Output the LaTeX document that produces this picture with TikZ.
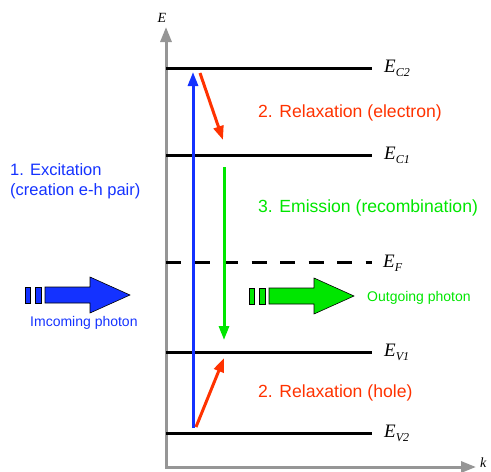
\documentclass[tikz,border=0pt]{standalone}
\usepackage{fontspec}
\setmainfont{Liberation Sans}
\newfontfamily\tms{Liberation Serif}
\usetikzlibrary{arrows.meta, positioning}
\definecolor{exblue}{RGB}{20,50,255}
\definecolor{rlxred}{RGB}{255,50,0}
\definecolor{emgreen}{RGB}{0,230,0}
\definecolor{axgray}{RGB}{150,150,150}
\tikzset{%
   % gray energy / momentum axes
   axis/.style={
      draw=axgray,
      line width=3pt,
      {Triangle[length=15pt,width=11pt]}-{Triangle[length=15pt,width=11pt]}
   },
   level/.style={draw=black, line width=3pt},
   trans/.style={line width=3pt, -{Triangle[length=14pt,width=10pt]}},
   big/.style={inner sep=0pt, font=\fontsize{17.6}{20}\selectfont},
   left big/.style={inner sep=0pt, font=\fontsize{16.5}{20}\selectfont},
   small/.style={inner sep=0pt, font=\fontsize{14}{17}\selectfont},
   lvl/.style={anchor=base west, inner sep=0pt, font=\fontsize{19}{22}\selectfont\tms\itshape},
   axlab/.style={inner sep=0pt, font=\fontsize{14}{16}\selectfont\tms\itshape},
   % fat arrow with two dashes in front of it
   photon/.pic={
      \draw[pic actions] (0,-8) rectangle (5,8);
      \draw[pic actions] (10,-8) rectangle (16,8);
      \draw[pic actions] (20,-8) -- (65,-8) -- (65,-18) -- (105,0)
                         -- (65,18) -- (65,8) -- (20,8) -- cycle;
   },
}
\newcommand\sublvl[1]{\raisebox{-4pt}{\fontsize{12}{14}\selectfont #1}}

\begin{document}
\begin{tikzpicture}[x=1pt, y=-1pt]
\useasboundingbox (0,0) rectangle (491,472);
% axes
\coordinate (o) at (166,467);
\coordinate (ytop) at (166,27);
\coordinate (xend) at (476,467);
\draw[axis] (ytop) -- (o) -- (xend);
\node[axlab] (elab) at (162,18) {E};
\node[axlab, anchor=base west] (klab) at (480,467) {k};
% energy levels
\foreach \n/\y/\s in {c2/68/C2, c1/155/C1, v1/352/V1, v2/433/V2} {
   \coordinate (\n l) at (166,\y);
   \coordinate (\n r) at (372,\y);
   \draw[level] (\n l) -- (\n r);
   \node[lvl] (\n) at (384,\y+4) {E\sublvl{\s}};
}
\coordinate (fl) at (166,262);
\coordinate (fr) at (372,262);
\draw[level, dash pattern=on 15pt off 13.5pt] (fl) -- (fr);
\node[lvl] (ef) at (383,267) {E\sublvl{F}};
% transitions
\coordinate (b0) at (193,428);
\coordinate (b1) at (193,72);
\draw[trans, exblue] (b0) -- (b1);
\coordinate (r0) at (200,73);
\coordinate (r1) at (223,140);
\draw[trans, rlxred] (r0) -- (r1);
\coordinate (h0) at (196,427);
\coordinate (h1) at (224,358);
\draw[trans, rlxred] (h0) -- (h1);
\coordinate (g0) at (224,167);
\coordinate (g1) at (224,340);
\draw[trans, emgreen] (g0) -- (g1);
% labels
\node[big, text=rlxred, anchor=west] (relaxe) at (258,113) {2. Relaxation (electron)};
\node[left big, text=exblue, anchor=west, align=left] (exc) at (10,181) {1. Excitation\\(creation e-h pair)};
\node[big, text=emgreen, anchor=west] (emis) at (258,208) {3. Emission (recombination)};
\node[big, text=rlxred, anchor=west] (relaxh) at (258,393) {2. Relaxation (hole)};
% photons
\pic[fill=exblue, draw=black, line width=0.6pt] (inarr) at (25,295) {photon};
\pic[fill=emgreen, draw=black, line width=0.6pt] (outarr) at (249,296) {photon};
\node[small, text=exblue, anchor=west] (inph) at (30,323) {Imcoming photon};
\node[small, text=emgreen, anchor=west] (outph) at (367,298) {Outgoing photon};
\end{tikzpicture}
\end{document}
